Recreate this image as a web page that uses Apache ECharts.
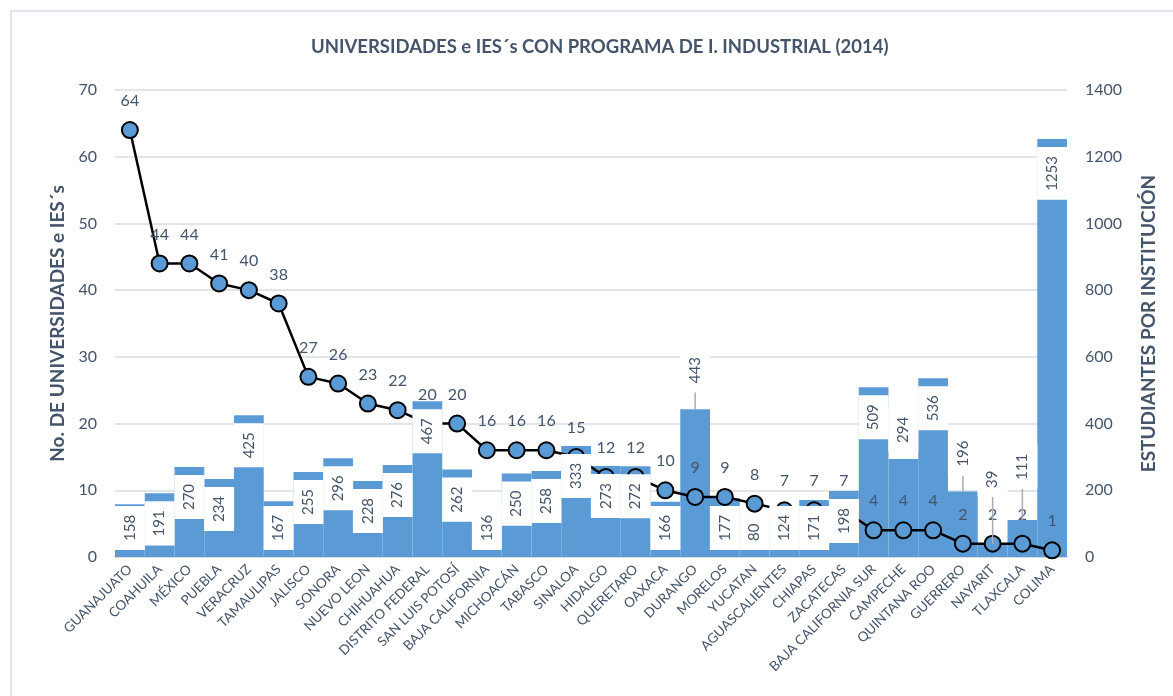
<!DOCTYPE html>
<html>
<head>
<meta charset="utf-8">
<script src="https://cdn.jsdelivr.net/npm/echarts@6/dist/echarts.min.js"></script>
<style>
  html, body { margin: 0; padding: 0; background: #ffffff; }
  #frame {
    position: absolute; left: 10px; top: 10px; width: 1240px; height: 760px;
    border: 2px solid #e2e6ec; box-sizing: border-box;
  }
  #chart { position: absolute; left: 0; top: 0; width: 1173px; height: 696px; }
</style>
</head>
<body>
<div id="frame"></div>
<div id="chart"></div>
<script>
// Estados ordenados por número de universidades e IES con programa de Ingeniería Industrial
const estados = [
  'GUANAJUATO', 'COAHUILA', 'MÉXICO', 'PUEBLA', 'VERACRUZ', 'TAMAULIPAS', 'JALISCO',
  'SONORA', 'NUEVO LEON', 'CHIHUAHUA', 'DISTRITO FEDERAL', 'SAN LUIS POTOSÍ',
  'BAJA CALIFORNIA', 'MICHOACÁN', 'TABASCO', 'SINALOA', 'HIDALGO', 'QUERETARO',
  'OAXACA', 'DURANGO', 'MORELOS', 'YUCATAN', 'AGUASCALIENTES', 'CHIAPAS', 'ZACATECAS',
  'BAJA CALIFORNIA SUR', 'CAMPECHE', 'QUINTANA ROO', 'GUERRERO', 'NAYARIT', 'TLAXCALA', 'COLIMA'
];

// No. de universidades e IES´s (eje izquierdo)
const universidades = [
  64, 44, 44, 41, 40, 38, 27, 26, 23, 22, 20, 20, 16, 16, 16, 15,
  12, 12, 10, 9, 9, 8, 7, 7, 7, 4, 4, 4, 2, 2, 2, 1
];

// Estudiantes por institución (eje derecho)
const estudiantes = [
  158, 191, 270, 234, 425, 167, 255, 296, 228, 276, 467, 262, 136, 250, 258, 333,
  273, 272, 166, 443, 177, 80, 124, 171, 198, 509, 294, 536, 196, 39, 111, 1253
];

// Escalas de los ejes
const ejeIzq = { min: 0, max: 70, interval: 10 };
const ejeDer = { min: 0, max: 1400, interval: 200 };

const AZUL = '#5b9bd5';
const TEXTO = '#44546a';
const FUENTE = 'Lato, "Open Sans", sans-serif';
const TAM_ETIQUETA = 15;
const RELLENO_ETIQUETA = [6, 9];

// Separación entre la cima de la barra y la caja de su etiqueta
const SEP_ETIQUETA = 8;
// Margen mínimo entre la caja de la etiqueta y la base de la barra
const MARGEN_BASE = 7;

// Etiquetas que van por encima de la barra (distancia y línea guía)
const etiquetasFuera = {
  'DURANGO': { distance: 17, guia: true },
  'CAMPECHE': { distance: 7, guia: false },
  'GUERRERO': { distance: 16, guia: true },
  'NAYARIT': { distance: 47, guia: true },
  'TLAXCALA': { distance: 31, guia: true }
};

function itemFuera(v, extra) {
  return {
    value: v,
    label: { position: 'top', align: 'left', distance: extra.distance },
    labelLine: { show: extra.guia }
  };
}

const chart = echarts.init(document.getElementById('chart'), null, { renderer: 'canvas' });

const GRID = { left: 115, right: 106, top: 90, bottom: 139 };

chart.setOption({
  animation: false,
  textStyle: { fontFamily: FUENTE },
  title: {
    text: 'UNIVERSIDADES e IES´s CON PROGRAMA DE I. INDUSTRIAL (2014)',
    left: 306,
    top: 33,
    textStyle: { fontFamily: FUENTE, fontSize: 18.5, fontWeight: 'bold', color: TEXTO }
  },
  // título del eje izquierdo, girado y centrado en la altura del área de trazado
  graphic: [{
    type: 'text',
    x: 58,
    y: GRID.top + (696 - GRID.top - GRID.bottom) / 2,
    rotation: Math.PI / 2,
    silent: true,
    style: {
      text: 'No. DE UNIVERSIDADES e IES´s',
      font: 'bold 19px ' + FUENTE,
      fill: TEXTO,
      align: 'center',
      verticalAlign: 'middle'
    }
  }],
  grid: GRID,
  xAxis: {
    type: 'category',
    data: estados,
    boundaryGap: true,
    axisLine: { lineStyle: { color: '#d9dce1', width: 2 } },
    axisTick: { show: false },
    axisLabel: {
      interval: 0, rotate: 45, margin: 10,
      fontFamily: FUENTE, fontSize: 13.5, color: TEXTO
    }
  },
  yAxis: [
    {
      type: 'value',
      min: ejeIzq.min, max: ejeIzq.max, interval: ejeIzq.interval,
      axisLine: { show: false },
      axisTick: { show: false },
      axisLabel: { margin: 18, fontFamily: FUENTE, fontSize: 16, color: TEXTO },
      splitLine: { lineStyle: { color: '#e1e4e9', width: 2 } }
    },
    {
      type: 'value',
      min: ejeDer.min, max: ejeDer.max, interval: ejeDer.interval,
      name: 'ESTUDIANTES POR INSTITUCIÓN',
      nameLocation: 'middle',
      nameMoveOverlap: false,
      nameGap: 72,
      nameTextStyle: { fontFamily: FUENTE, fontSize: 19, fontWeight: 'bold', color: TEXTO },
      axisLine: { show: false },
      axisTick: { show: false },
      axisLabel: {
        margin: 18, fontFamily: FUENTE, fontSize: 16, color: TEXTO,
        formatter: function (v) { return String(v); }
      },
      splitLine: { show: false }
    }
  ],
  series: [
    {
      name: 'ESTUDIANTES POR INSTITUCIÓN',
      type: 'bar',
      yAxisIndex: 1,
      data: estudiantes,
      barCategoryGap: '0%',
      barGap: '-100%',
      itemStyle: { color: AZUL },
      z: 2
    },
    {
      name: 'No. DE UNIVERSIDADES e IES´s',
      type: 'line',
      yAxisIndex: 0,
      data: universidades,
      symbol: 'circle',
      symbolSize: 16,
      lineStyle: { color: '#000000', width: 2.5 },
      itemStyle: { color: AZUL, borderColor: '#000000', borderWidth: 2 },
      label: {
        show: true, position: 'top', distance: 12,
        fontFamily: FUENTE, fontSize: 16, color: TEXTO
      },
      z: 3
    },
    {
      // capa de etiquetas de estudiantes, dibujada sobre la línea
      name: 'etiquetas',
      type: 'bar',
      yAxisIndex: 1,
      data: estudiantes.map(function (v, i) {
        const extra = etiquetasFuera[estados[i]];
        return extra ? itemFuera(v, extra) : { value: v };
      }),
      barCategoryGap: '0%',
      barGap: '-100%',
      itemStyle: { color: 'rgba(0,0,0,0)' },
      z: 4,
      silent: true,
      label: {
        show: true,
        position: 'insideTop',
        distance: SEP_ETIQUETA,
        rotate: 90,
        align: 'right',
        verticalAlign: 'middle',
        fontFamily: FUENTE,
        fontSize: TAM_ETIQUETA,
        lineHeight: 18,
        color: TEXTO,
        backgroundColor: '#ffffff',
        padding: RELLENO_ETIQUETA
      },
      labelLine: { show: false, lineStyle: { color: '#a6adb7', width: 1.5 } },
      labelLayout: function () { return {}; }
    }
  ]
});

// En barras bajas la caja de la etiqueta se sube para no tapar la base del eje
(function ajustarEtiquetas() {
  const ctx = document.createElement('canvas').getContext('2d');
  ctx.font = TAM_ETIQUETA + 'px ' + FUENTE;
  const base = chart.convertToPixel({ yAxisIndex: 1 }, 0);
  const datos = estudiantes.map(function (v, i) {
    const extra = etiquetasFuera[estados[i]];
    if (extra) return itemFuera(v, extra);
    const cima = chart.convertToPixel({ yAxisIndex: 1 }, v);
    const largo = ctx.measureText(String(v)).width + 2 * RELLENO_ETIQUETA[1];
    const exceso = cima + SEP_ETIQUETA + largo - (base - MARGEN_BASE);
    if (exceso <= 0) return { value: v };
    return { value: v, label: { distance: SEP_ETIQUETA - exceso } };
  });
  chart.setOption({ series: [{}, {}, { data: datos }] });
})();
</script>
</body>
</html>
